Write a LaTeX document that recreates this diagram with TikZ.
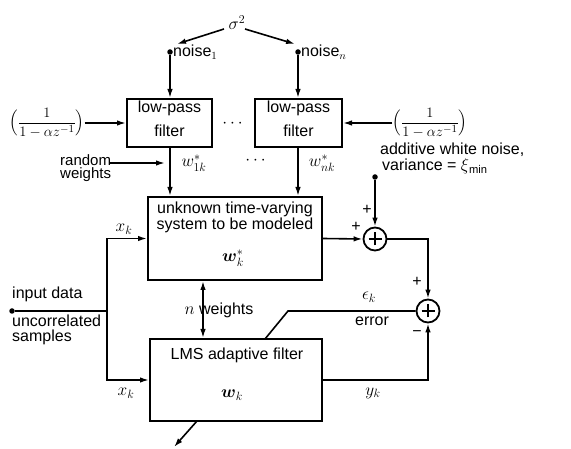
\documentclass[tikz,border=0pt]{standalone}
\usepackage{amsmath}
\usepackage{fontspec}
\setmainfont{Liberation Sans}
\usetikzlibrary{arrows.meta}
\begin{document}
\begin{tikzpicture}[x=1pt,y=-1pt,
  box/.style={draw, line width=2pt, inner sep=0},
  ln/.style={line width=1.6pt},
  arr/.style={line width=1.6pt, -{Latex[length=9pt,width=5.5pt]}},
  dbl/.style={line width=1.6pt, {Latex[length=9pt,width=5.5pt]}-{Latex[length=9pt,width=5.5pt]}},
  dotn/.style={circle, fill, inner sep=0, minimum size=5.5pt},
  txt/.style={inner sep=0, font=\fontsize{16}{15}\selectfont},
  mth/.style={inner sep=0, font=\fontsize{18.5}{20}\selectfont},
  sumj/.style={circle, draw, line width=1.8pt, minimum size=23pt, inner sep=0,
    path picture={
      \draw[line width=1.8pt] ([xshift=-6.5pt]path picture bounding box.center) -- ([xshift=6.5pt]path picture bounding box.center);
      \draw[line width=1.8pt] ([yshift=-6.5pt]path picture bounding box.center) -- ([yshift=6.5pt]path picture bounding box.center);
    }}
]
\useasboundingbox (0,0) rectangle (571,449);

% boxes
\node[box, minimum width=85pt, minimum height=48pt] (lp1) at (169.5,123) {};
\node[box, minimum width=87pt, minimum height=48pt] (lp2) at (298.5,123) {};
\node[box, minimum width=174pt, minimum height=83pt] (unk) at (235,238.5) {};
\node[box, minimum width=172pt, minimum height=82pt] (lms) at (236,380) {};

% box texts
\node[txt, anchor=base] (lp1a) at (169.5,113) {low-pass};
\node[txt, anchor=base] (lp1b) at (169.5,137) {filter};
\node[txt, anchor=base] (lp2a) at (298.5,113) {low-pass};
\node[txt, anchor=base] (lp2b) at (298.5,137) {filter};
\node[txt, anchor=base] (unka) at (235,214) {unknown time-varying};
\node[txt, anchor=base] (unkb) at (235,230) {system to be modeled};
\node[mth, anchor=base] (unkw) at (233,262) {$\boldsymbol{w}^*_k$};
\node[txt, anchor=base] (lmsa) at (237,360) {LMS adaptive filter};
\node[mth, anchor=base] (lmsw) at (232,398) {$\boldsymbol{w}_k$};

% sigma and noise sources
\node[inner sep=0, font=\fontsize{18}{20}\selectfont] (sig) at (237,23) {$\sigma^2$};
\node[dotn] (d1) at (170,52) {};
\node[dotn] (d2) at (298,52) {};
\coordinate (sL) at (224,29);
\coordinate (t1) at (177,44);
\coordinate (sR) at (245,29);
\coordinate (t2) at (295,44);
\draw[arr] (sL) -- (t1);
\draw[arr] (sR) -- (t2);
\node[txt, anchor=west] (no1) at (173,52) {noise$_1$};
\node[txt, anchor=west] (non) at (301,52) {noise$_n$};
\draw[arr] (d1) -- (d1 |- lp1.north);
\draw[arr] (d2) -- (d2 |- lp2.north);

% fractions
\node[inner sep=0, font=\fontsize{15}{17}\selectfont] (fl) at (47,123) {$\Bigl(\dfrac{1}{1-\alpha z^{-1}}\Bigr)$};
\node[inner sep=0, font=\fontsize{15}{17}\selectfont] (fr) at (430,123) {$\Bigl(\dfrac{1}{1-\alpha z^{-1}}\Bigr)$};
\draw[arr] (fl.east) -- (lp1.west);
\draw[arr] (fr.west) -- (lp2.east);
\node[mth] (dd1) at (234,124) {$\cdots$};

% weights into unknown system
\draw[arr] (d1 |- lp1.south) -- (d1 |- unk.north);
\draw[arr] (d2 |- lp2.south) -- (d2 |- unk.north);
\node[inner sep=0, font=\fontsize{15}{13.5}\selectfont, align=left, anchor=north west] (rw) at (60,154) {random\\weights};
\coordinate (rws) at (110,163);
\coordinate (rwt) at (165,163);
\draw[arr] (rws) -- (rwt);
\node[mth] (w1) at (194,163) {$w^*_{1k}$};
\node[mth] (dd2) at (257,161) {$\cdots$};
\node[mth] (wn) at (322,163) {$w^*_{nk}$};

% input
\node[dotn] (din) at (12,311) {};
\coordinate (jn) at (107,311);
\draw[ln] (din) -- (jn);
\draw[arr] (jn) |- (unk.west);
\draw[arr] (jn) |- (lms.west);
\node[txt, anchor=base west] (ind) at (12,299) {input data};
\node[txt, anchor=base west] (unc) at (12,327) {uncorrelated};
\node[txt, anchor=base west] (smp) at (12,342) {samples};
\node[mth] (xk1) at (124,229) {$x_k$};
\node[mth] (xk2) at (126,393) {$x_k$};

% summing junction 1
\node[sumj] (s1) at (375,239) {};
\draw[arr] (unk.east) -- (s1.west);
\node[dotn] (dn) at (375,177) {};
\draw[arr] (dn) -- (s1.north);
\node[txt, anchor=base west] (awn) at (380,155) {additive white noise,};
\node[txt, anchor=base west] (var) at (382,171) {variance = $\xi$\textsubscript{min}};
\node[txt] (p1) at (367,210) {+};
\node[txt] (p2) at (356,227) {+};

% summing junction 2
\node[sumj] (s2) at (428,311) {};
\draw[arr] (s1.east) -| (s2.north);
\draw[arr] (lms.east) -| (s2.south);
\node[txt] (p3) at (417,282) {+};
\node[txt] (m1) at (417,334) {\textminus};
\coordinate (e1) at (288,311);
\coordinate (e2) at (265,339);
\draw[ln] (s2.west) -- (e1) -- (e2);
\node[mth] (ek) at (369,297) {$\epsilon_k$};
\node[txt] (err) at (372,321) {error};
\node[mth] (yk) at (373,393) {$y_k$};

% weights between systems
\coordinate (nwx) at (203,0);
\draw[dbl] (unk.south -| nwx) -- (lms.north -| nwx);
\node[txt] (nwl) at (219,310) {$n$ weights};

% output weights
\coordinate (bo) at (197,421);
\coordinate (bt) at (174,447);
\draw[arr] (bo) -- (bt);
\end{tikzpicture}
\end{document}
